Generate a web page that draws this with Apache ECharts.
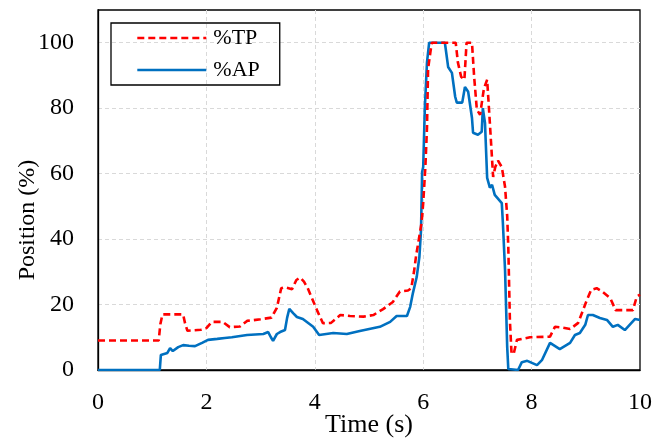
<!DOCTYPE html>
<html>
<head>
<meta charset="utf-8">
<script src="https://cdn.jsdelivr.net/npm/echarts@6/dist/echarts.min.js"></script>
<style>html,body{margin:0;padding:0;background:#fff;}#c{width:652px;height:438px;}</style>
</head>
<body>
<div id="c"></div>
<script>
// Data (time in s, position in %)
const tpTime = [0,1.12,1.15,1.19,1.57,1.61,1.65,1.9,2.0,2.1,2.3,2.43,2.62,2.75,3.0,3.2,3.3,3.38,3.45,3.58,3.66,3.73,3.8,3.87,4.04,4.15,4.3,4.47,4.65,4.9,5.08,5.26,5.44,5.57,5.72,5.78,5.83,5.87,5.92,5.97,6.0,6.04,6.07,6.09,6.14,6.16,6.6,6.64,6.7,6.76,6.8,6.9,6.94,6.99,7.05,7.12,7.18,7.23,7.29,7.33,7.38,7.45,7.51,7.55,7.57,7.6,7.63,7.67,7.73,7.97,8.34,8.43,8.55,8.71,8.86,9.02,9.1,9.2,9.3,9.45,9.55,9.87,9.94,10];
const tpValue = [9,9,14,17,17,14,12,12.3,12.8,14.7,14.7,13.1,13.3,15,15.5,16,19,25,25.3,24.7,27.5,28.2,27,25,18.3,14.3,14.4,16.8,16.5,16.3,16.8,18.6,20.8,24,24.3,25,30,35,40,45,51,62,74,92,98,100,100,94,89.6,88.7,100,100,89.6,79.5,78,86,88.7,75.5,59,62,64,62,56,47,37.6,15,5,5,9.2,10,10.2,13.2,13,12.5,14.4,21.4,24.5,25,24,22,18.3,18.3,22.4,23];
const apTime = [0,1.14,1.16,1.28,1.33,1.38,1.48,1.57,1.68,1.79,1.92,2.03,2.2,2.34,2.47,2.75,3.05,3.14,3.19,3.23,3.3,3.36,3.45,3.49,3.53,3.6,3.67,3.78,3.97,4.08,4.34,4.59,4.83,5.2,5.39,5.51,5.7,5.76,5.81,5.88,5.93,5.96,5.98,6.0,6.03,6.07,6.11,6.4,6.46,6.53,6.59,6.62,6.72,6.77,6.83,6.9,6.92,7.01,7.08,7.1,7.14,7.18,7.23,7.27,7.32,7.45,7.47,7.51,7.55,7.57,7.75,7.82,7.92,8.1,8.19,8.34,8.52,8.71,8.8,8.89,8.99,9.04,9.13,9.26,9.39,9.5,9.59,9.72,9.91,10];
const apValue = [0,0,4.6,5.2,6.7,5.8,7,7.6,7.4,7.3,8.3,9.2,9.5,9.8,10,10.7,11,11.6,10,8.9,11,11.6,12.2,16,18.7,17.4,16.2,15.6,13.2,10.7,11.3,11,11.9,13.2,14.7,16.5,16.5,19.3,23.5,28.4,34.6,42.8,60.5,62,80,94,100,100,92.6,90.8,83.5,81.7,81.7,86.5,85,77,72.5,71.9,72.8,80,75.5,58.7,55.7,56.6,53.5,51,45,30.6,7,0.3,0,2.4,2.8,1.5,3,8.3,6.4,8.3,10.7,11.3,13.8,16.8,16.8,15.9,15.3,13.2,13.8,12.2,15.6,15.3];
const seriesNames = ['%TP', '%AP'];
const xTitle = 'Time (s)';
const yTitle = 'Position (%)';

const pairs = (t, v) => t.map((x, i) => [x, v[i]]);
const font = '"Liberation Serif", "Times New Roman", Times, serif';

const chart = echarts.init(document.getElementById('c'), null, {renderer: 'canvas'});
chart.setOption({
  animation: false,
  backgroundColor: '#fff',
  grid: {left: 98, right: 12, top: 10, bottom: 68, show: true, borderColor: '#000', borderWidth: 1.3,
    containLabel: false, outerBoundsMode: 'none'},
  legend: {
    left: 111, top: 23, orient: 'vertical',
    data: seriesNames,
    itemWidth: 69, itemHeight: 14, itemGap: 10,
    padding: [4, 20, 4, 25],
    borderColor: '#000', borderWidth: 1.3,
    itemStyle: {opacity: 0},
    lineStyle: {width: 2.6},
    textStyle: {fontFamily: font, fontSize: 22, color: '#000', padding: [0, 0, 0, 2]}
  },
  xAxis: {
    type: 'value', min: 0, max: 10, interval: 2,
    name: xTitle, nameLocation: 'middle', nameGap: 42, nameMoveOverlap: false,
    nameTextStyle: {fontFamily: font, fontSize: 26, color: '#000'},
    axisLine: {show: true, lineStyle: {color: '#000', width: 1.3}},
    axisTick: {show: false},
    axisLabel: {fontFamily: font, fontSize: 24, color: '#000', margin: 21},
    splitLine: {show: true, showMinLine: false, showMaxLine: false, lineStyle: {color: '#d9d9d9', type: [4, 3], width: 1}}
  },
  yAxis: {
    type: 'value', min: 0, max: 110, interval: 20,
    name: yTitle, nameLocation: 'middle', nameGap: 58, nameMoveOverlap: false,
    nameTextStyle: {fontFamily: font, fontSize: 24, color: '#000', padding: [0, 60, 0, 0]},
    axisLine: {show: true, lineStyle: {color: '#000', width: 1.3}},
    axisTick: {show: false},
    axisLabel: {fontFamily: font, fontSize: 24, color: '#000', margin: 24,
      formatter: v => (v > 100 ? '' : String(v))},
    splitLine: {show: true, showMinLine: false, showMaxLine: false, lineStyle: {color: '#d9d9d9', type: [4, 3], width: 1}}
  },
  series: [
    {name: seriesNames[0], type: 'line', data: pairs(tpTime, tpValue), symbol: 'none', z: 3,
      lineStyle: {color: '#ff0000', width: 2.6, type: [7, 4]}, itemStyle: {color: '#ff0000'}},
    {name: seriesNames[1], type: 'line', data: pairs(apTime, apValue), symbol: 'none', z: 2,
      lineStyle: {color: '#0070c0', width: 2.6}, itemStyle: {color: '#0070c0'}}
  ]
});
</script>
</body>
</html>
